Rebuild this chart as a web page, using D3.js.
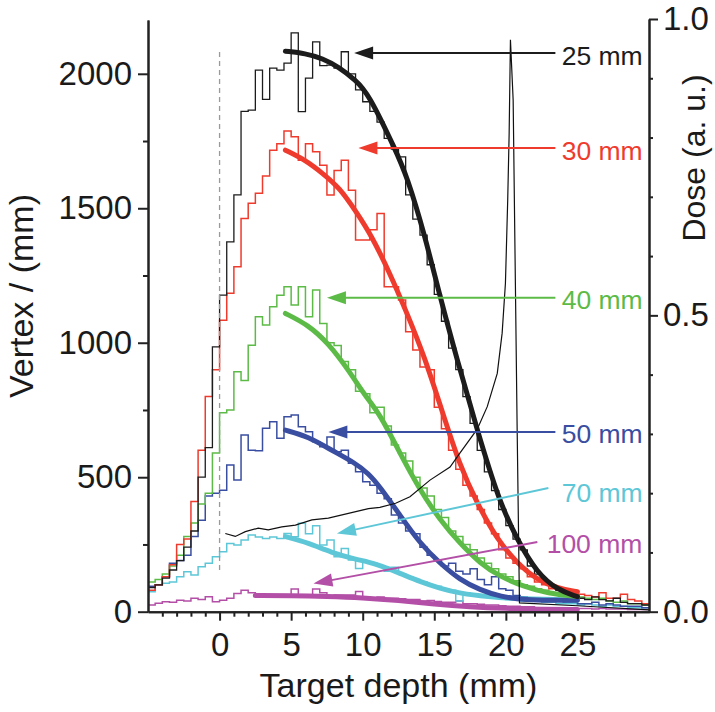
<!DOCTYPE html>
<html><head><meta charset="utf-8">
<script src="https://cdn.jsdelivr.net/npm/d3@7"></script>
<style>
body{margin:0;background:#fff}
svg{display:block}
text{font-family:"Liberation Sans",Arial,Helvetica,sans-serif}
</style>
</head><body>
<svg id="chart" width="715" height="712"></svg>
<script>
// ---------------- DATA ----------------
const binStart = -5;
const binWidth = 0.5;
const seriesNames = ["25 mm", "30 mm", "40 mm", "50 mm", "70 mm", "100 mm"];
const seriesColors = ["#1c1c1c", "#ee3b2d", "#5cbb47", "#3a4ea1", "#5ec7d7", "#b34fa6"];

// histogram counts, 0.5 mm bins from -5 to 30 mm
const hist25 = [90,100,125,155,190,240,300,500,610,985,
  1177,1375,1550,1860,1865,2014,1905,2021,2014,2040,
  2152,1859,1984,2119,2030,2032,2021,2082,2000,1940,
  1896,1860,1820,1760,1720,1691,1550,1460,1400,1290,
  1180,1080,980,900,800,700,600,520,450,380,
  320,270,230,170,140,110,95,80,70,60,
  50,45,55,45,40,50,35,30,30,25];
const hist30 = [80,100,130,175,250,270,410,600,800,900,
  1084,1184,1283,1462,1519,1556,1620,1716,1740,1787,
  1766,1679,1740,1710,1660,1549,1640,1679,1567,1382,
  1382,1420,1481,1208,1208,1159,1041,973,910,900,
  760,680,600,530,470,430,380,330,290,230,
  200,180,160,130,110,100,85,80,75,70,
  65,60,55,70,50,50,65,45,40,30];
const hist40 = [110,120,140,170,210,280,330,400,440,590,
  740,750,892,860,991,1097,1066,1134,1177,1208,
  1140,1208,1097,1196,1072,1000,990,930,900,820,
  810,740,760,690,620,590,560,500,460,430,
  380,350,300,280,250,230,200,180,160,140,
  130,115,100,95,85,80,70,65,60,55,
  55,50,45,50,40,35,40,30,30,25];
const hist50 = [95,100,130,180,190,210,280,340,430,440,
  452,545,490,657,600,598,682,706,645,725,
  731,688,669,632,613,650,595,600,552,520,
  483,470,440,420,360,330,300,290,240,210,
  190,170,180,150,140,160,120,100,130,85,
  80,60,55,50,50,45,40,40,35,35,
  30,30,35,25,30,25,20,20,20,15];
const hist70 = [74,99,106,110,130,149,136,167,180,204,
  223,254,248,267,285,278,272,278,272,291,
  279,329,290,320,248,267,204,235,192,161,
  185,180,170,150,165,140,130,120,110,100,
  95,85,80,40,70,65,60,55,55,50,
  45,45,40,40,40,35,35,30,30,30,
  25,30,25,20,25,20,20,15,15,15];
const hist100 = [25,31,37,35,43,40,50,45,56,37,
  43,50,68,80,70,62,62,62,62,62,
  84,62,62,84,70,50,62,62,62,75,
  55,50,55,50,50,48,45,45,40,42,
  38,35,35,40,30,30,28,25,25,22,
  20,20,18,18,15,15,15,15,12,12,
  12,12,10,12,10,10,10,8,8,8];

// fitted curves (depth mm, vertex value)
const fitX25 = [4.6,6,7.2,8.3,9.5,10.4,12.3,13.1,14.3,15.4,16.6,18.0,19.5,20.8,22.2,23.6,25];
const fitY25 = [2084,2076,2057,2026,1977,1927,1716,1617,1407,1171,936,675,415,266,143,81,56];
const fitX30 = [4.6,6,7.2,8.4,9.5,10.6,11.9,13.1,14.3,15.4,16.8,18.0,19.4,20.8,22.2,23.6,25];
const fitY30 = [1716,1679,1630,1575,1490,1400,1258,1109,950,770,539,403,267,180,118,87,74];
const fitX40 = [4.6,6.2,7.6,9.0,10.2,11.2,12.6,14.0,15.4,16.8,18.2,19.6,21.3,22.9,25];
const fitY40 = [1109,1066,998,899,800,735,589,452,341,254,180,130,93,68,56];
const fitX50 = [4.6,6.2,7.8,9.5,10.4,11.2,12.6,14.0,15.4,16.8,18.2,19.6,21.5,23,25];
const fitY50 = [675,651,601,552,514,465,359,254,180,118,81,56,43,42,43];
const fitX70 = [4.6,6.2,7.8,9.5,10.4,11.2,12.6,14.0,15.4,16.8,18.7,21,25];
const fitY70 = [279,256,220,195,185,172,143,112,87,68,56,47,43];
const fitX100 = [2.5,5,7.5,10,12.5,15,17.5,20,22.5,25];
const fitY100 = [60,60,57,52,42,28,18,12,9,8];

// dose profile (right axis)
const doseX = [0.4,1.1,1.8,2.7,3.4,4.35,5.3,6.45,7.6,9.0,10.4,11.2,12.3,13.3,14.7,16.1,16.8,18.0,18.7,19.4,19.74,19.97,20.13,20.23,20.32,20.51,20.79,20.95,25,30];
const doseY = [0.132,0.127,0.135,0.141,0.138,0.143,0.146,0.155,0.158,0.166,0.174,0.176,0.183,0.194,0.222,0.244,0.268,0.308,0.346,0.402,0.47,0.554,0.695,0.807,0.965,0.863,0.307,0.015,0.01,0.003];

// arrows: tail (x,y) -> tip (x,y) in data units; label centre
const arrowTailX = [23.46,23.46,23.46,23.46,22.97,22.2];
const arrowTailY = [2077,1724,1167,668,460,259];
const arrowTipX  = [9.4,9.7,7.5,7.6,8.2,6.56];
const arrowTipY  = [2077,1724,1167,668,291,105];
const labelX = [23.9,23.9,23.9,23.9,23.9,22.85];
const labelY = [2068,1713,1160,661,443,252];

const xTicks = [0,5,10,15,20,25];
const xMinorTicks = d3.range(-4,30,1).filter(v => v % 5 !== 0);
const yTicks = [0,500,1000,1500,2000];
const yMinorTicks = [250,750,1250,1750];
const doseTicks = [0,0.5,1.0];
const doseMinorTicks = [0.1,0.2,0.3,0.4,0.6,0.7,0.8,0.9];
const zeroLine = {x: 0, from: 155, to: 2090};

// ---------------- DRAW ----------------
const svg = d3.select("#chart");
const x = d3.scaleLinear().domain([-5,30]).range([148,649]);
const y = d3.scaleLinear().domain([0,2200]).range([611.7,20]);
const yd = d3.scaleLinear().domain([0,1]).range([611.7,19]);
const axisColor = "#222";

const hists = [hist25,hist30,hist40,hist50,hist70,hist100];
const fitsX = [fitX25,fitX30,fitX40,fitX50,fitX70,fitX100];
const fitsY = [fitY25,fitY30,fitY40,fitY50,fitY70,fitY100];

const stepLine = d3.line().x(d => x(d[0])).y(d => y(d[1])).curve(d3.curveStepAfter);
const fitLine = d3.line().x(d => x(d[0])).y(d => y(d[1])).curve(d3.curveBasis);

// histograms (draw in reverse so black on top)
const gH = svg.append("g");
for (let s = hists.length - 1; s >= 0; s--) {
  const pts = hists[s].map((v,i) => [binStart + i*binWidth, v]);
  pts.push([binStart + hists[s].length*binWidth, hists[s][hists[s].length-1]]);
  gH.append("path").attr("d", stepLine(pts)).attr("fill","none")
    .attr("stroke", seriesColors[s]).attr("stroke-width", s === 0 ? 1.3 : 1.5);
}

// dashed zero line
svg.append("line")
  .attr("x1", x(zeroLine.x)).attr("x2", x(zeroLine.x))
  .attr("y1", y(zeroLine.from)).attr("y2", y(zeroLine.to))
  .attr("stroke","#9a9a9a").attr("stroke-width",1.3).attr("stroke-dasharray","5,4");

// fit curves
for (let s = fitsX.length - 1; s >= 0; s--) {
  const pts = fitsX[s].map((v,i) => [v, fitsY[s][i]]);
  svg.append("path").attr("d", fitLine(pts)).attr("fill","none")
    .attr("stroke", seriesColors[s]).attr("stroke-width", 5)
    .attr("stroke-linecap","round");
}

// dose curve
const doseLine = d3.line().x(d => x(d[0])).y(d => yd(d[1]));
svg.append("path").attr("d", doseLine(doseX.map((v,i) => [v, doseY[i]])))
  .attr("fill","none").attr("stroke","#111").attr("stroke-width",1.2);

// arrows
const gA = svg.append("g");
seriesNames.forEach((name, i) => {
  const x1 = x(arrowTailX[i]), y1 = y(arrowTailY[i]);
  const x2 = x(arrowTipX[i]), y2 = y(arrowTipY[i]);
  const ang = Math.atan2(y2 - y1, x2 - x1);
  const L = 19, W = 6.5;
  const bx = x2 - L*Math.cos(ang), by = y2 - L*Math.sin(ang);
  gA.append("line").attr("x1", x1).attr("y1", y1).attr("x2", bx + 2*Math.cos(ang)).attr("y2", by + 2*Math.sin(ang))
    .attr("stroke", seriesColors[i]).attr("stroke-width", 2);
  const p1 = [bx + W*Math.sin(ang), by - W*Math.cos(ang)];
  const p2 = [bx - W*Math.sin(ang), by + W*Math.cos(ang)];
  gA.append("path").attr("d", `M${x2},${y2}L${p1[0]},${p1[1]}L${p2[0]},${p2[1]}Z`)
    .attr("fill", seriesColors[i]);
  gA.append("text").attr("x", x(labelX[i])).attr("y", y(labelY[i]) + 9.5)
    .attr("fill", seriesColors[i]).attr("font-size", 26.5).text(name);
});

// axes
function styleAxis(g, fs) {
  g.selectAll(".domain").attr("stroke", axisColor).attr("stroke-width", 2);
  g.selectAll(".tick line").attr("stroke", axisColor).attr("stroke-width", 2);
  g.selectAll(".tick text").attr("fill", "#1a1a1a").attr("font-size", fs)
    .attr("font-family", '"Liberation Sans",Arial,Helvetica,sans-serif');
}
const gL = svg.append("g").attr("transform", "translate(148,0)")
  .call(d3.axisLeft(y).tickValues(yTicks).tickFormat(d3.format("d")).tickSize(10).tickPadding(6).tickSizeOuter(0));
styleAxis(gL, 33);
const gLm = svg.append("g").attr("transform", "translate(148,0)")
  .call(d3.axisLeft(y).tickValues(yMinorTicks).tickFormat("").tickSize(5).tickSizeOuter(0));
styleAxis(gLm, 33);

const gB = svg.append("g").attr("transform", "translate(0,611.7)")
  .call(d3.axisBottom(x).tickValues(xTicks).tickFormat(d3.format("d")).tickSize(9).tickPadding(12).tickSizeOuter(0));
styleAxis(gB, 33);
const gBm = svg.append("g").attr("transform", "translate(0,611.7)")
  .call(d3.axisBottom(x).tickValues(xMinorTicks).tickFormat("").tickSize(5).tickSizeOuter(0));
styleAxis(gBm, 33);

const gR = svg.append("g").attr("transform", "translate(649,0)")
  .call(d3.axisRight(yd).tickValues(doseTicks).tickFormat(d3.format(".1f")).tickSize(9).tickPadding(5).tickSizeOuter(0));
styleAxis(gR, 33);
const gRm = svg.append("g").attr("transform", "translate(649,0)")
  .call(d3.axisRight(yd).tickValues(doseMinorTicks).tickFormat("").tickSize(4).tickSizeOuter(0));
styleAxis(gRm, 33);

// axis titles
svg.append("text").attr("transform", "translate(33,296) rotate(-90)")
  .attr("text-anchor","middle").attr("font-size", 34).attr("fill","#1a1a1a").text("Vertex / (mm)");
svg.append("text").attr("x", 398.5).attr("y", 697)
  .attr("text-anchor","middle").attr("font-size", 34).attr("fill","#1a1a1a").text("Target depth (mm)");
svg.append("text").attr("transform", "translate(705,158) rotate(-90)")
  .attr("text-anchor","middle").attr("font-size", 32).attr("fill","#1a1a1a").text("Dose (a. u.)");
</script>
</body></html>
